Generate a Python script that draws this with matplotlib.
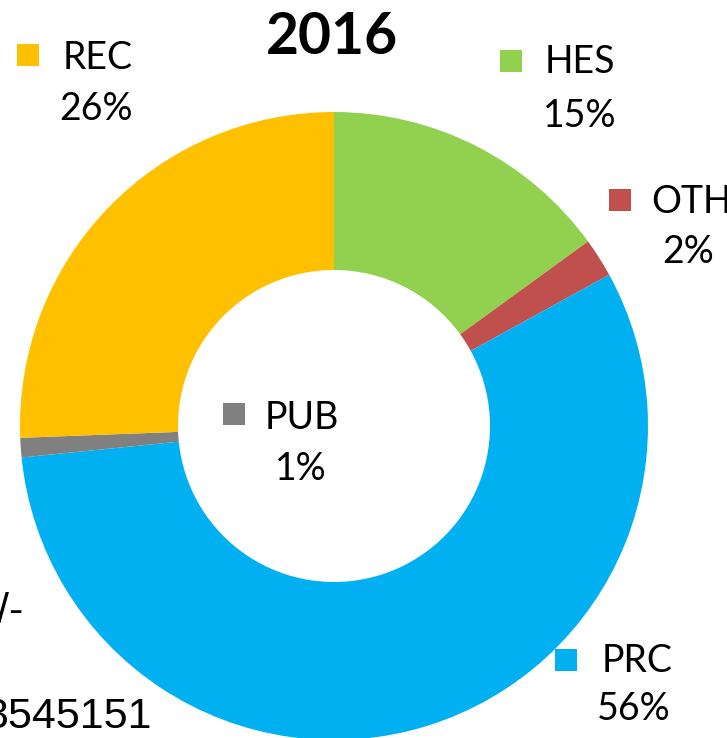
import matplotlib.pyplot as plt

W, H = 727, 738

# share of each segment, clockwise from 12 o'clock
names = ['HES', 'OTH', 'PRC', 'PUB', 'REC']
shares = [15, 2, 56.4, 1, 25.6]
colors = ['#92D050', '#C0504D', '#00B0F0', '#808080', '#FFC000']
title = '2016'

# label layout in pixels: marker centre, name left edge, pct centre
label_pos = {
    'HES': ((511, 61), (545, 62), (580, 116)),
    'OTH': ((620, 200), (651, 202), (688, 252)),
    'PRC': ((566, 660), (602, 661), (634, 709)),
    'PUB': ((234, 414), (265, 418), (301, 469)),
    'REC': ((28, 55), (63, 58), (96, 109)),
}

plt.rcParams['font.family'] = ['Lato', 'DejaVu Sans']

fig = plt.figure(figsize=(W / 100, H / 100), dpi=100)
ax = fig.add_axes([0, 0, 1, 1])

ax.pie(shares, colors=colors, startangle=90, counterclock=False,
       radius=314, center=(334, H - 426),
       wedgeprops=dict(width=158, linewidth=0))

for name, val, col in zip(names, shares, colors):
    (mx, my), (tx, ty), (px, py) = label_pos[name]
    ax.scatter([mx], [H - my], marker='s', s=270, color=col, linewidths=0)
    ax.text(tx, H - ty, name, fontsize=27, ha='left', va='center')
    ax.text(px, H - py, f'{val:.0f}%', fontsize=27, ha='center', va='center')

ax.text(332, H - 37, title, fontsize=41, fontweight='bold',
        ha='center', va='center')

# leftover text from the page the chart was cut from
ax.text(23, H - 612, '/-', fontsize=31, family='Liberation Sans',
        ha='right', va='center')
ax.text(152, H - 717, '3545151', fontsize=31, family='Liberation Sans',
        ha='right', va='center')

ax.set_xlim(0, W)
ax.set_ylim(0, H)
ax.set_aspect('equal')
ax.axis('off')

fig.savefig('out.png', dpi=100)
